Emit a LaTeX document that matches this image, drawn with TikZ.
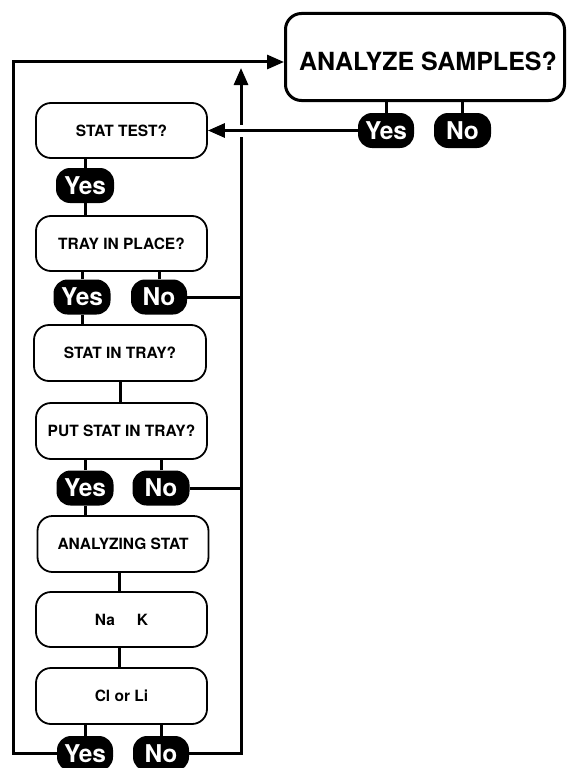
\documentclass[tikz,border=0pt]{standalone}
\usepackage{fontspec}
\setmainfont{TeX Gyre Heros}
\usetikzlibrary{arrows.meta,calc}
\begin{document}
\begin{tikzpicture}[x=1pt,y=-1pt,
  conn/.style={line width=3pt},
  qbox/.style={draw, line width=1.8pt, rounded corners=15pt, inner sep=0pt,
    minimum width=171pt, minimum height=55pt,
    font=\fontsize{15.5}{18}\selectfont\bfseries},
  ans/.style={fill=black, text=white, rounded corners=14pt, inner sep=0pt,
    minimum width=57pt, minimum height=35pt,
    font=\fontsize{24.5}{28}\selectfont\bfseries},
  tipend/.style={-{Triangle[length=17pt,width=14pt]}}
]
\useasboundingbox (0,0) rectangle (568,768);

% main question
\node[draw, line width=3pt, rounded corners=16pt, inner sep=0pt,
  minimum width=279pt, minimum height=87pt, text height=28pt,
  font=\fontsize{25}{30}\selectfont\bfseries] (as) at (425,57)
  {\hspace*{6pt}ANALYZE SAMPLES?};

% question boxes
\node[qbox] (st) at (121.5,130.5) {STAT TEST?};
\node[qbox] (tip) at (121.5,243.5) {TRAY IN PLACE?};
\node[qbox, minimum width=172pt, minimum height=56pt] (sit) at (120,353) {STAT IN TRAY?};
\node[qbox, minimum height=56pt] (pst) at (121.5,431) {PUT STAT IN TRAY?};
\node[qbox, minimum height=56pt] (anst) at (123,544) {ANALYZING STAT};
\node[qbox] (nak) at (121.5,619.5) {Na\hspace{22pt}K};
\node[qbox, minimum height=56pt] (cl) at (121.5,696) {Cl or Li};

% answers
\node[ans, minimum width=56pt] (asy) at (386,130.5) {Yes};
\node[ans] (asn) at (462.5,130.5) {No};
\node[ans, minimum width=58pt] (sty) at (85,185.5) {Yes};
\node[ans] (tipy) at (82,297) {Yes};
\node[ans, minimum width=56pt] (tipn) at (159,297) {No};
\node[ans] (psty) at (85,488) {Yes};
\node[ans] (pstn) at (161,488) {No};
\node[ans, minimum width=56pt] (cly) at (85,753.5) {Yes};
\node[ans, minimum width=56pt] (cln) at (161,753.5) {No};

% short connectors
\draw[conn] (asy.north) -- (asy.north |- as.south);
\draw[conn] (asn.north) -- (asn.north |- as.south);
\draw[conn] (sty.north) -- (sty.north |- st.south);
\draw[conn] (sty.south) -- (sty.south |- tip.north);
\draw[conn] (tipy.north) -- (tipy.north |- tip.south);
\draw[conn] (tipn.north) -- (tipn.north |- tip.south);
\draw[conn] (tipy.south) -- (tipy.south |- sit.north);
\draw[conn] (sit.south) -- (sit.south |- pst.north);
\draw[conn] (psty.north) -- (psty.north |- pst.south);
\draw[conn] (pstn.north) -- (pstn.north |- pst.south);
\draw[conn] (psty.south) -- (psty.south |- anst.north);
\draw[conn] ([xshift=-2.5pt]nak.north) -- ([xshift=-2.5pt]nak.north |- anst.south);
\draw[conn] ([xshift=-2.5pt]cl.north) -- ([xshift=-2.5pt]cl.north |- nak.south);
\draw[conn] (cly.north) -- (cly.north |- cl.south);
\draw[conn] (cln.north) -- (cln.north |- cl.south);

% loops
\coordinate (rtop) at (241,68);
\coordinate (ltop) at (13,62);
\draw[conn, tipend] (cln.east) -| (rtop);
\draw[conn, tipend] (cly.west) -| (ltop) -- (ltop -| as.west);
\draw[conn] (tipn.east) -- (tipn.east -| rtop);
\draw[conn] (pstn.east) -- (pstn.east -| rtop);
\fill[white] ($(asy.west -| rtop)+(-3.5,-6)$) rectangle ($(asy.west -| rtop)+(3.5,6)$);
\draw[conn, tipend] (asy.west) -- (asy.west -| st.east);
\end{tikzpicture}
\end{document}
